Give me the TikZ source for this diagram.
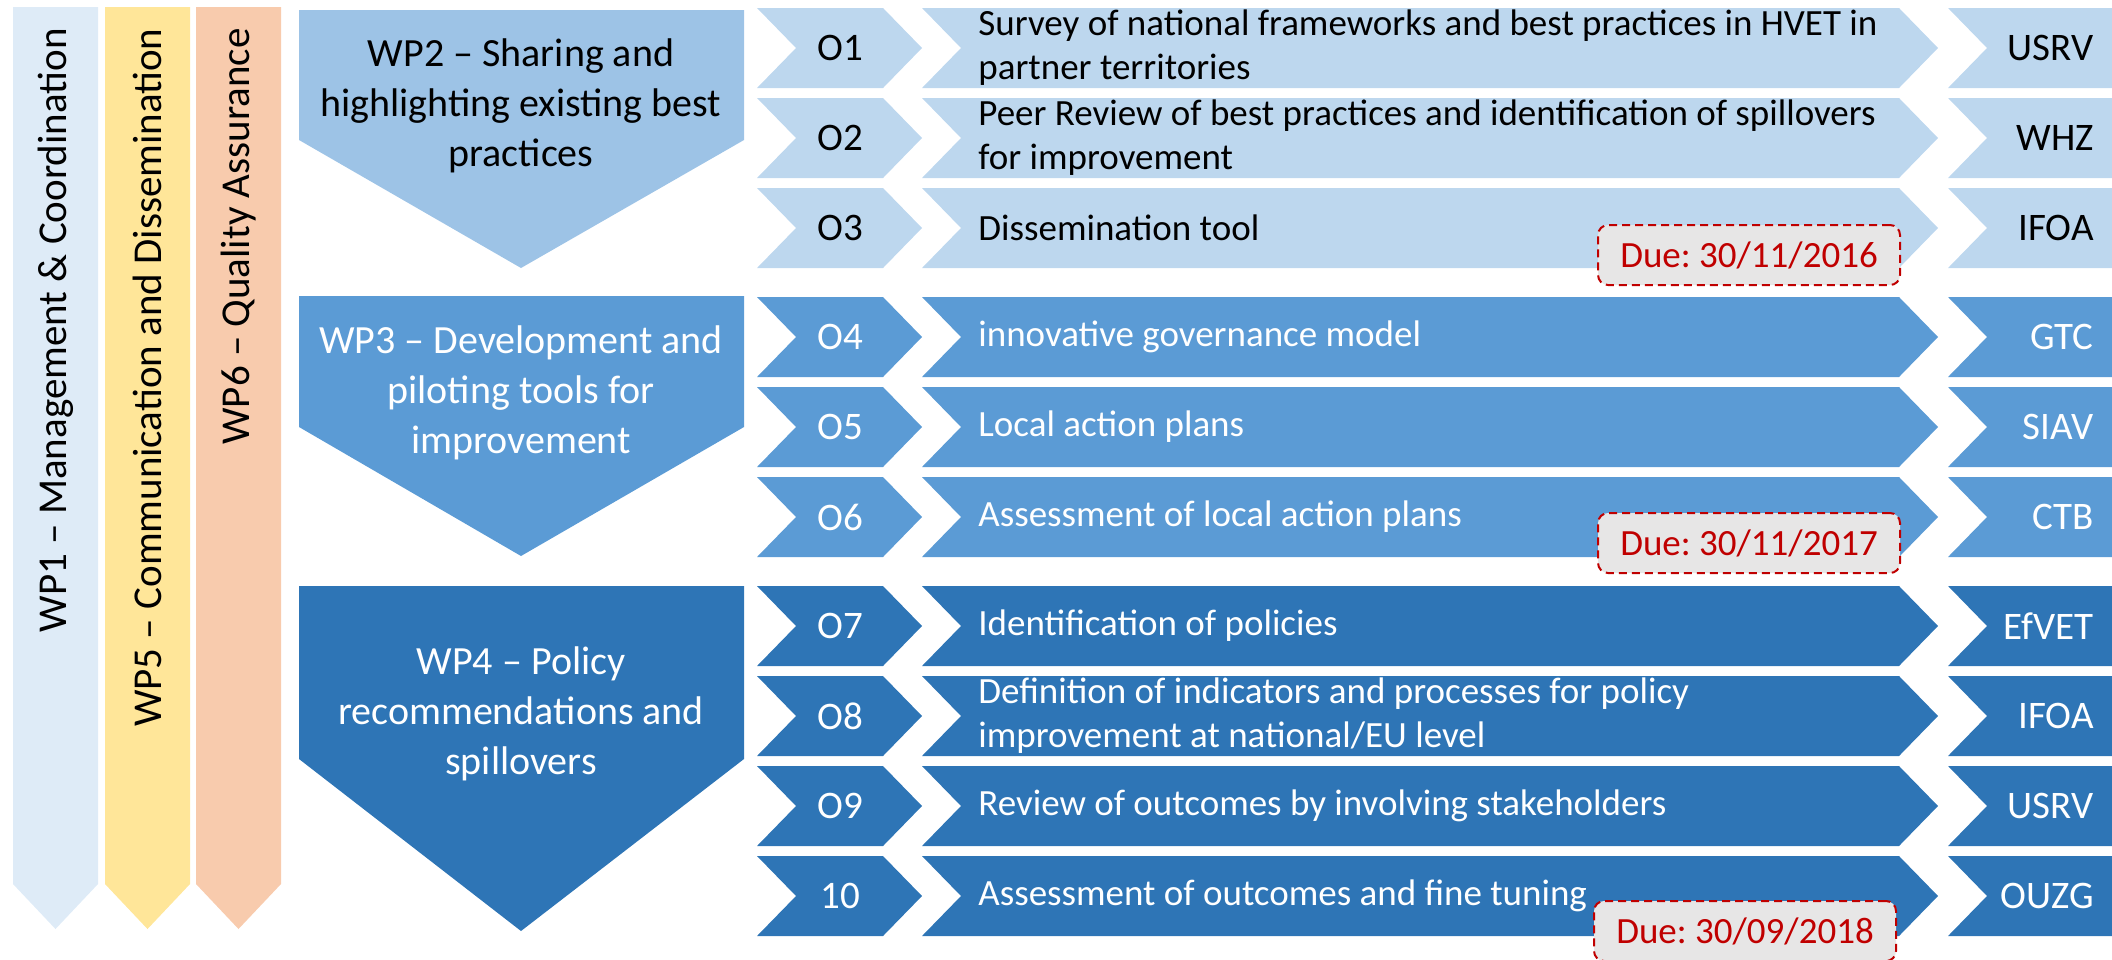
\documentclass[tikz,border=0pt]{standalone}
\usepackage{fontspec}
\setmainfont{Carlito}
\usepackage{tikz}
\frenchspacing
\definecolor{wpone}{HTML}{DEEBF7}
\definecolor{wpfive}{HTML}{FFE699}
\definecolor{wpsix}{HTML}{F8CBAD}
\definecolor{bllite}{HTML}{BDD7EE}
\definecolor{blwp}{HTML}{9DC3E6}
\definecolor{blmid}{HTML}{5B9BD5}
\definecolor{bldark}{HTML}{2E75B6}
\definecolor{duered}{HTML}{C00000}
\definecolor{duegray}{HTML}{E7E6E6}
\tikzset{
  side/.style={rotate=90,anchor=east,inner sep=0pt,font=\fontsize{20.5}{24}\selectfont},
  wp/.style={align=center,inner sep=0pt,font=\fontsize{20}{25}\selectfont},
  olab/.style={inner sep=0pt,font=\fontsize{19.5}{23}\selectfont},
  desc/.style={anchor=west,align=left,inner sep=0pt,font=\fontsize{18.5}{22}\selectfont},
  plab/.style={anchor=east,inner sep=0pt,font=\fontsize{19.5}{23}\selectfont},
  due/.style={draw=duered,dash pattern=on 4pt off 2.5pt,line width=1pt,rounded corners=5pt,fill=duegray,
    text=duered,minimum width=151pt,minimum height=30pt,inner sep=0pt,font=\fontsize{18.5}{22}\selectfont}
}
% vertical arrow at the left: name, left x, colour, text
\newcommand{\sidearrow}[4]{
  \fill[#3] (#2,7) -- (#2+85,7) -- (#2+85,884) -- (#2+42.5,929) -- (#2,884) -- cycle;
  \node[side] (#1) at (#2+42.5,28) {#4};
}
% one output row: name, top, fill, text colour, label, description, partner
\newcommand{\outrow}[7]{
  \fill[#3] (757,#2) -- (883,#2) -- (922,#2+40) -- (883,#2+80) -- (757,#2+80) -- (796,#2+40) -- cycle;
  \fill[#3] (922,#2) -- (1899,#2) -- (1938,#2+40) -- (1899,#2+80) -- (922,#2+80) -- (961,#2+40) -- cycle;
  \fill[#3] (1948,#2) -- (2112,#2) -- (2112,#2+80) -- (1948,#2+80) -- (1987,#2+40) -- cycle;
  \node[olab,text=#4] (o#1) at (840,#2+40) {#5};
  \node[desc,text=#4] (d#1) at (978,#2+40) {#6};
  \node[plab,text=#4] (p#1) at (2094,#2+40) {#7};
}

\begin{document}
\begin{tikzpicture}[x=0.5pt,y=-0.5pt]
\useasboundingbox (0,0) rectangle (2112,959);
\sidearrow{wp1}{13}{wpone}{WP1 – Management \& Coordination}
\sidearrow{wp5}{105}{wpfive}{WP5 – Communication and Dissemination}
\sidearrow{wp6}{196}{wpsix}{WP6 – Quality Assurance}

\fill[blwp] (299,10) -- (744,10) -- (744,140) -- (521,268) -- (299,140) -- cycle;
\node[wp] (wp2) at (521,106) {WP2 – Sharing and\\highlighting existing best\\practices};
\fill[blmid] (299,296) -- (744,296) -- (744,427) -- (521,556) -- (299,427) -- cycle;
\node[wp,text=white] (wp3) at (521,393) {WP3 – Development and\\piloting tools for\\improvement};
\fill[bldark] (299,586) -- (744,586) -- (744,759) -- (521,931) -- (299,759) -- cycle;
\node[wp,text=white] (wp4) at (521,714) {WP4 – Policy\\recommendations and\\spillovers};

\outrow{1}{8}{bllite}{black}{O1}{Survey of national frameworks and best practices in HVET in\\partner territories}{USRV}
\outrow{2}{98}{bllite}{black}{O2}{Peer Review of best practices and identification of spillovers\\for improvement}{WHZ}
\outrow{3}{188}{bllite}{black}{O3}{Dissemination tool}{IFOA}
\outrow{4}{297}{blmid}{white}{O4}{innovative governance model}{GTC}
\outrow{5}{387}{blmid}{white}{O5}{Local action plans}{SIAV}
\outrow{6}{477}{blmid}{white}{O6}{Assessment of local action plans}{CTB}
\outrow{7}{586}{bldark}{white}{O7}{Identification of policies}{EfVET}
\outrow{8}{676}{bldark}{white}{O8}{Definition of indicators and processes for policy\\improvement at national/EU level}{IFOA}
\outrow{9}{766}{bldark}{white}{O9}{Review of outcomes by involving stakeholders}{USRV}
\outrow{10}{856}{bldark}{white}{10}{Assessment of outcomes and fine tuning}{OUZG}

\node[due] (due1) at (1749,255) {Due: 30/11/2016};
\node[due] (due2) at (1749,543) {Due: 30/11/2017};
\node[due] (due3) at (1745,931) {Due: 30/09/2018};
\end{tikzpicture}
\end{document}
